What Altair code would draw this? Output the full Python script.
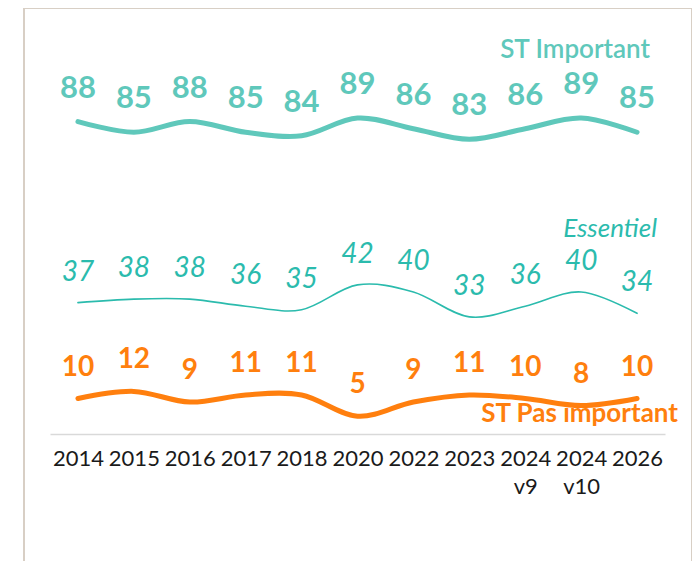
import altair as alt
import pandas as pd

categories = ["2014", "2015", "2016", "2017", "2018", "2020", "2022", "2023", "2024 v9", "2024 v10", "2026"]
st_important = [88, 85, 88, 85, 84, 89, 86, 83, 86, 89, 85]
essentiel = [37, 38, 38, 36, 35, 42, 40, 33, 36, 40, 34]
st_pas_important = [10, 12, 9, 11, 11, 5, 9, 11, 10, 8, 10]

TEAL = "#5fc8bb"
TEAL2 = "#2bbbad"
ORANGE = "#ff7f0e"
FONT = "Lato"

rows = []
for name, vals in [("ST Important", st_important), ("Essentiel", essentiel), ("ST Pas important", st_pas_important)]:
    for c, v in zip(categories, vals):
        rows.append({"series": name, "cat": c, "value": v})
df = pd.DataFrame(rows)

x = alt.X("cat:N", sort=categories, title=None,
          scale=alt.Scale(type="point", padding=0.5),
          axis=alt.Axis(labelExpr="split(datum.label, ' ')", labelAngle=0, ticks=False,
                        domainColor="#d9d9d9", domainWidth=1.5, labelFont=FONT,
                        labelFontSize=22, labelColor="#1a1a1a", labelPadding=14,
                        labelLineHeight=28, labelBaseline="top", grid=False))
y = alt.Y("value:Q", scale=alt.Scale(domain=[0, 100]), axis=None)

base = alt.Chart(df).encode(x=x, y=y)

def layer(name, color, width, fsize, weight, style, dy):
    d = base.transform_filter(alt.datum.series == name)
    line = d.mark_line(color=color, strokeWidth=width, interpolate="cardinal", strokeCap="round")
    txt = d.mark_text(color=color, fontSize=fsize, fontWeight=weight, fontStyle=style,
                      font=FONT, baseline="alphabetic", dy=dy).encode(text="value:Q")
    return line + txt

l1 = layer("ST Important", TEAL, 5, 31, "bold", "normal", -24)
l2 = layer("Essentiel", TEAL2, 1.6, 28, "normal", "italic", -22)
l3 = layer("ST Pas important", ORANGE, 5, 28, "bold", "normal", -23)

lab_df = pd.DataFrame({"t": ["x"]})
lab1 = alt.Chart(lab_df).mark_text(text="ST Important", color=TEAL, fontSize=26, fontWeight=600,
                                   font=FONT, align="right", baseline="alphabetic").encode(
    x=alt.value(600), y=alt.value(-21))
lab2 = alt.Chart(lab_df).mark_text(text="Essentiel", color=TEAL2, fontSize=26, fontStyle="italic",
                                   font=FONT, align="right", baseline="alphabetic").encode(
    x=alt.value(607), y=alt.value(158))
lab3 = alt.Chart(lab_df).mark_text(text="ST Pas important", color=ORANGE, fontSize=26, fontWeight="bold",
                                   font=FONT, align="right", baseline="alphabetic").encode(
    x=alt.value(628), y=alt.value(343))

frame = alt.Chart(lab_df).mark_rect(fill=None, stroke="#d8cfc5", strokeWidth=2).encode(
    x=alt.value(-26), x2=alt.value(642), y=alt.value(-71), y2=alt.value(520))

chart = alt.layer(frame, l1, l2, l3, lab1, lab2, lab3).properties(
    width=615, height=355,
    background="white",
    autosize=alt.AutoSizeParams(type="none"),
    padding={"left": 42, "top": 71, "right": 27, "bottom": 127},
).configure_view(strokeWidth=0, stroke="transparent")

chart.save("out.html", embed_options={"renderer": "svg", "actions": False})
